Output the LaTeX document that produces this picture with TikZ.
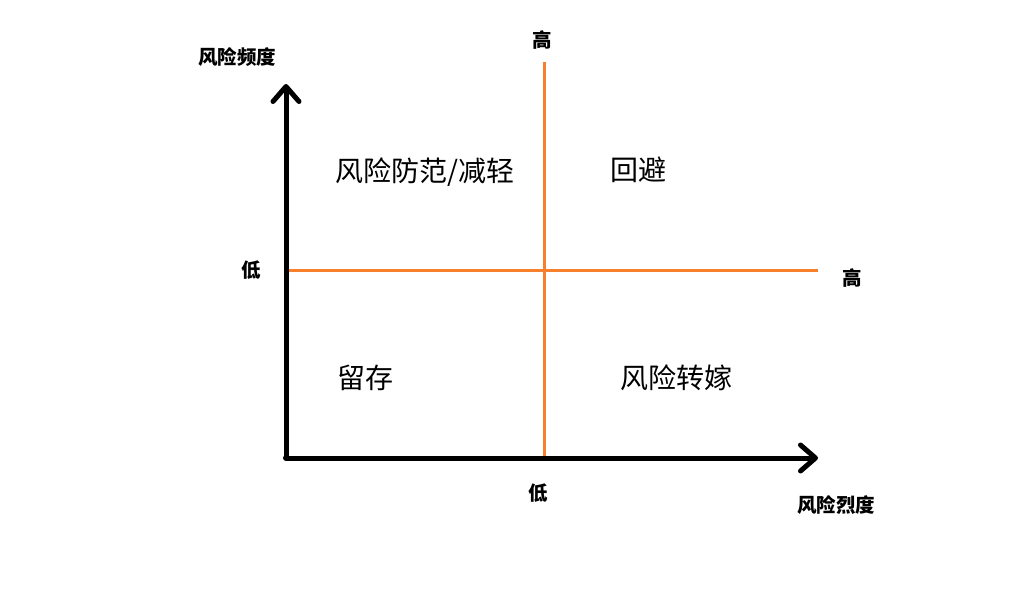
\documentclass[tikz,border=0pt]{standalone}
\usepackage{fontspec}
\setmainfont{Noto Sans CJK SC}
\usepackage{xcolor}
\usetikzlibrary{arrows,arrows.meta,positioning,calc}
\definecolor{divorange}{RGB}{246,128,44}

\begin{document}
\begin{tikzpicture}[x = 1pt, y = -1pt,
  axislab/.style = {font = \fontsize{19.5}{21}\selectfont\bfseries, inner sep = 0pt},
  quadlab/.style = {font = \fontsize{28}{30}\selectfont, inner sep = 0pt},
  axisline/.style = {line width = 5pt, -{Straight Barb[length = 15pt, width = 26pt, round]}},
  divline/.style = {line width = 3pt, divorange}]
\useasboundingbox (0,0) rectangle (1014,615);
\coordinate (o) at (286,458);
\coordinate (ytop) at (286,84);
\coordinate (xend) at (818,458);
\coordinate (vtop) at (544,62);
\coordinate (vbot) at (544,461);
\coordinate (hleft) at (286,270);
\coordinate (hright) at (818,270);
\node[axislab] (yname) at (237,57) {风险频度};
\node[axislab] (xname) at (836,505) {风险烈度};
\node[axislab] (yhigh) at (542,40) {高};
\node[axislab] (ylow) at (251,270) {低};
\node[axislab] (xhigh) at (852,278) {高};
\node[axislab] (xlow) at (538,493) {低};
\node[quadlab] (guard) at (425,172) {风险防范/减轻};
\node[quadlab] (avoid) at (638,170) {回避};
\node[quadlab] (keep) at (365,378) {留存};
\node[quadlab] (shift) at (676,378) {风险转嫁};
\draw[divline] (vtop) -- (vbot);
\draw[divline] (hleft) -- (hright);
\draw[axisline] (o) -- (ytop);
\draw[axisline] (o) -- (xend);
\fill (o) circle (3pt);
\end{tikzpicture}
\end{document}
